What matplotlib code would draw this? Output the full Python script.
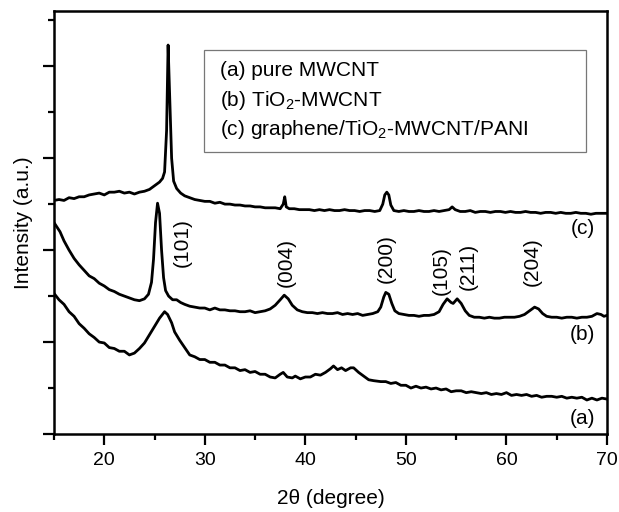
import matplotlib
matplotlib.use("Agg")
import matplotlib.pyplot as plt
from matplotlib.patches import Rectangle
from matplotlib.ticker import MultipleLocator, NullFormatter

plt.rcParams['font.family'] = ['Liberation Sans', 'DejaVu Sans']
plt.rcParams['mathtext.fontset'] = 'custom'
plt.rcParams['mathtext.rm'] = 'Liberation Sans'
plt.rcParams['mathtext.it'] = 'Liberation Sans:italic'

# (a) pure MWCNT
x_a = [15.0, 15.5, 16.0, 16.5, 17.0, 17.5, 18.0, 18.5, 19.0, 19.5, 20.0, 20.5,
       21.0, 21.5, 22.0, 22.5, 23.0, 23.5, 24.0, 24.5, 25.0, 25.5, 26.0, 26.3,
       26.7, 27.0, 27.5, 28.0, 28.5, 29.0, 29.5, 30.0, 30.5, 31.0, 31.5, 32.0,
       32.5, 33.0, 33.5, 34.0, 34.5, 35.0, 35.5, 36.0, 36.5, 37.0, 37.5, 37.8,
       38.2, 38.7, 39.0, 39.5, 40.0, 40.5, 41.0, 41.5, 42.0, 42.5, 42.8, 43.2,
       43.6, 44.0, 44.5, 44.8, 45.3, 45.8, 46.3, 46.8, 47.5, 48.0, 48.5, 49.0,
       49.5, 50.0, 50.5, 51.0, 51.5, 52.0, 52.5, 53.0, 53.5, 54.0, 54.5, 55.0,
       55.5, 56.0, 56.5, 57.0, 57.5, 58.0, 58.5, 59.0, 59.5, 60.0, 60.5, 61.0,
       61.5, 62.0, 62.5, 63.0, 63.5, 64.0, 64.5, 65.0, 65.5, 66.0, 66.5, 67.0,
       67.5, 68.0, 68.5, 69.0, 69.5, 70.0]
y_a = [1.53, 1.46, 1.41, 1.33, 1.28, 1.20, 1.15, 1.09, 1.05, 1.00, 0.99, 0.94,
       0.93, 0.90, 0.90, 0.86, 0.88, 0.93, 0.99, 1.08, 1.17, 1.26, 1.33, 1.30,
       1.21, 1.11, 1.02, 0.94, 0.86, 0.84, 0.81, 0.81, 0.78, 0.78, 0.75, 0.75,
       0.72, 0.72, 0.69, 0.70, 0.67, 0.68, 0.65, 0.65, 0.62, 0.61, 0.65, 0.67,
       0.62, 0.61, 0.63, 0.60, 0.62, 0.62, 0.65, 0.64, 0.67, 0.71, 0.74, 0.70,
       0.72, 0.69, 0.72, 0.72, 0.67, 0.63, 0.59, 0.58, 0.57, 0.57, 0.55, 0.56,
       0.53, 0.53, 0.50, 0.52, 0.50, 0.51, 0.49, 0.50, 0.48, 0.49, 0.46, 0.47,
       0.47, 0.45, 0.46, 0.45, 0.44, 0.45, 0.43, 0.44, 0.43, 0.45, 0.42, 0.43,
       0.42, 0.43, 0.41, 0.42, 0.40, 0.41, 0.41, 0.40, 0.41, 0.39, 0.40, 0.39,
       0.40, 0.37, 0.39, 0.37, 0.39, 0.38]

# (b) TiO2-MWCNT
x_b = [15.0, 15.3, 15.6, 16.0, 16.5, 17.0, 17.5, 18.0, 18.5, 19.0, 19.5, 20.0,
       20.5, 21.0, 21.5, 22.0, 22.5, 23.0, 23.5, 24.0, 24.4, 24.7, 24.9, 25.1,
       25.3, 25.5, 25.7, 25.9, 26.1, 26.4, 26.8, 27.2, 27.6, 28.0, 28.5, 29.0,
       29.5, 30.0, 30.5, 31.0, 31.5, 32.0, 32.5, 33.0, 33.5, 34.0, 34.5, 35.0,
       35.5, 36.0, 36.5, 37.0, 37.5, 37.9, 38.3, 38.7, 39.2, 39.7, 40.2, 40.7,
       41.2, 41.7, 42.2, 42.7, 43.2, 43.7, 44.2, 44.7, 45.2, 45.7, 46.2, 46.7,
       47.2, 47.5, 47.8, 48.0, 48.3, 48.6, 48.9, 49.3, 49.8, 50.3, 50.8, 51.3,
       51.8, 52.3, 52.8, 53.3, 53.7, 54.1, 54.5, 54.7, 55.1, 55.5, 55.9, 56.3,
       56.8, 57.3, 57.8, 58.3, 58.8, 59.3, 59.8, 60.3, 60.8, 61.3, 61.8, 62.3,
       62.8, 63.2, 63.6, 64.0, 64.5, 65.0, 65.5, 66.0, 66.5, 67.0, 67.5, 68.0,
       68.5, 69.0, 69.4, 69.7, 70.0]
y_b = [2.30, 2.25, 2.20, 2.10, 2.00, 1.91, 1.84, 1.78, 1.72, 1.69, 1.64, 1.61,
       1.57, 1.55, 1.52, 1.50, 1.48, 1.46, 1.45, 1.47, 1.52, 1.65, 1.90, 2.30,
       2.51, 2.40, 2.00, 1.70, 1.56, 1.50, 1.46, 1.46, 1.43, 1.41, 1.39, 1.38,
       1.37, 1.37, 1.35, 1.37, 1.35, 1.35, 1.34, 1.34, 1.33, 1.33, 1.34, 1.32,
       1.33, 1.34, 1.36, 1.40, 1.46, 1.51, 1.47, 1.40, 1.35, 1.33, 1.32, 1.32,
       1.31, 1.32, 1.31, 1.31, 1.32, 1.30, 1.31, 1.30, 1.31, 1.29, 1.30, 1.31,
       1.33, 1.38, 1.49, 1.54, 1.52, 1.42, 1.34, 1.31, 1.30, 1.29, 1.29, 1.28,
       1.29, 1.29, 1.30, 1.33, 1.41, 1.47, 1.43, 1.42, 1.47, 1.42, 1.34, 1.29,
       1.27, 1.27, 1.26, 1.27, 1.26, 1.26, 1.27, 1.27, 1.27, 1.28, 1.30, 1.34,
       1.38, 1.36, 1.31, 1.28, 1.27, 1.27, 1.26, 1.27, 1.27, 1.26, 1.27, 1.27,
       1.28, 1.31, 1.30, 1.28, 1.29]

# (c) graphene/TiO2-MWCNT/PANI
x_c = [15.0, 15.5, 16.0, 16.5, 17.0, 17.5, 18.0, 18.5, 19.0, 19.5, 20.0, 20.5,
       21.0, 21.5, 22.0, 22.5, 23.0, 23.5, 24.0, 24.5, 25.0, 25.5, 25.8, 26.0,
       26.2, 26.35, 26.5, 26.7, 26.9, 27.2, 27.6, 28.0, 28.5, 29.0, 29.5, 30.0,
       30.5, 31.0, 31.5, 32.0, 32.5, 33.0, 33.5, 34.0, 34.5, 35.0, 35.5, 36.0,
       36.5, 37.0, 37.5, 37.8, 37.95, 38.1, 38.4, 38.9, 39.4, 39.9, 40.4, 40.9,
       41.4, 41.9, 42.4, 42.9, 43.4, 43.9, 44.4, 44.9, 45.4, 45.9, 46.4, 46.9,
       47.4, 47.7, 47.9, 48.1, 48.3, 48.5, 48.8, 49.3, 49.8, 50.3, 50.8, 51.3,
       51.8, 52.3, 52.8, 53.3, 53.8, 54.3, 54.6, 54.9, 55.4, 55.9, 56.4, 56.9,
       57.4, 57.9, 58.4, 58.9, 59.4, 59.9, 60.4, 60.9, 61.4, 61.9, 62.4, 62.9,
       63.4, 63.9, 64.4, 64.9, 65.4, 65.9, 66.4, 66.9, 67.4, 67.9, 68.4, 68.9,
       69.4, 70.0]
y_c = [2.54, 2.55, 2.54, 2.57, 2.56, 2.58, 2.58, 2.60, 2.61, 2.62, 2.60, 2.63,
       2.63, 2.64, 2.62, 2.63, 2.61, 2.63, 2.64, 2.66, 2.70, 2.74, 2.78, 2.85,
       3.30, 4.23, 3.70, 3.00, 2.75, 2.67, 2.62, 2.59, 2.57, 2.55, 2.54, 2.53,
       2.53, 2.51, 2.52, 2.50, 2.50, 2.49, 2.49, 2.48, 2.48, 2.47, 2.47, 2.46,
       2.46, 2.46, 2.45, 2.50, 2.58, 2.47, 2.45, 2.45, 2.44, 2.44, 2.44, 2.43,
       2.44, 2.43, 2.44, 2.43, 2.43, 2.44, 2.43, 2.43, 2.42, 2.43, 2.43, 2.42,
       2.43, 2.50, 2.60, 2.63, 2.60, 2.49, 2.43, 2.42, 2.43, 2.42, 2.42, 2.43,
       2.42, 2.42, 2.43, 2.42, 2.43, 2.44, 2.47, 2.44, 2.42, 2.42, 2.43, 2.41,
       2.42, 2.42, 2.41, 2.42, 2.42, 2.41, 2.42, 2.41, 2.41, 2.42, 2.41, 2.41,
       2.40, 2.41, 2.41, 2.40, 2.41, 2.40, 2.40, 2.41, 2.40, 2.40, 2.39, 2.40,
       2.40, 2.40]

peak_labels = ['(101)', '(004)', '(200)', '(105)', '(211)', '(204)']
peak_x = [27.8, 38.1, 48.0, 53.5, 56.2, 62.6]
peak_y = [2.08, 1.87, 1.91, 1.78, 1.82, 1.87]

curve_tags = ['(a)', '(b)', '(c)']
tag_y = [0.17, 1.08, 2.24]

legend_lines = ['(a) pure MWCNT', '(b) TiO$_2$-MWCNT',
                '(c) graphene/TiO$_2$-MWCNT/PANI']

fs = 15
fig = plt.figure(figsize=(6.19, 5.12), dpi=100)
ax = fig.add_axes([0.0872, 0.1523, 0.8934, 0.8262])

for xs, ys in [(x_a, y_a), (x_b, y_b), (x_c, y_c)]:
    ax.plot(xs, ys, color='black', lw=2.0)

for lab, px, py in zip(peak_labels, peak_x, peak_y):
    ax.text(px, py, lab, rotation=90, ha='center', va='center', fontsize=fs)

for lab, py in zip(curve_tags, tag_y):
    ax.text(67.6, py, lab, ha='center', va='center', fontsize=fs)

# legend box
ax.add_patch(Rectangle((0.2716, 0.667), 0.69, 0.241, transform=ax.transAxes,
                       fill=False, edgecolor='#777777', lw=0.9))
for i, t in enumerate(legend_lines):
    ax.text(0.2996, 0.859 - i * 0.070, t, transform=ax.transAxes,
            ha='left', va='center', fontsize=fs)

ax.set_xlim(15, 70)
ax.set_ylim(0, 4.6)
ax.xaxis.set_major_locator(MultipleLocator(10))
ax.xaxis.set_minor_locator(MultipleLocator(5))
ax.yaxis.set_major_locator(MultipleLocator(1))
ax.yaxis.set_minor_locator(MultipleLocator(0.5))
ax.yaxis.set_major_formatter(NullFormatter())
ax.tick_params(which='major', direction='out', length=8, width=1.6, labelsize=14, pad=5)
ax.tick_params(which='minor', direction='out', length=4, width=1.6)
ax.tick_params(top=False, right=False)
for s in ax.spines.values():
    s.set_linewidth(1.8)

ax.set_xlabel('2θ (degree)', fontsize=fs, labelpad=14)
ax.set_ylabel('Intensity (a.u.)', fontsize=fs, labelpad=2)

fig.savefig('out.png', dpi=100)
